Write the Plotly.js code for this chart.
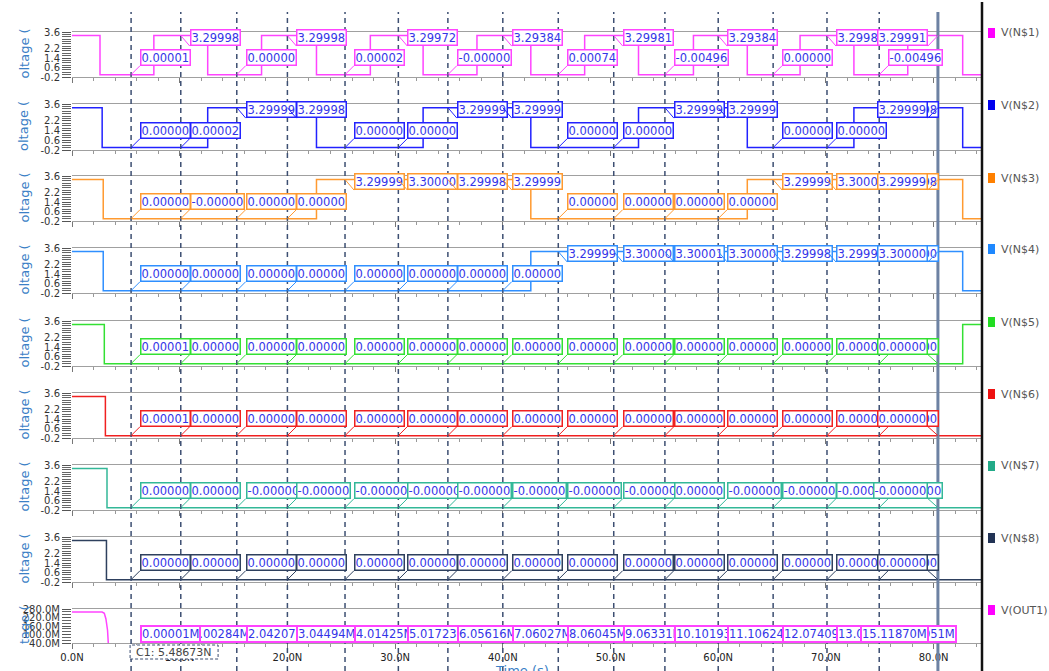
<!DOCTYPE html>
<html><head><meta charset="utf-8">
<script src="https://cdn.plot.ly/plotly-3.0.1.min.js"></script>
<style>html,body{margin:0;padding:0;background:#fff}#chart{width:1049px;height:671px}</style>
</head><body><div id="chart"></div><script>
// ---------------- data ----------------
const signalNames = ["V(N$1)","V(N$2)","V(N$3)","V(N$4)","V(N$5)","V(N$6)","V(N$7)","V(N$8)","V(OUT1)"];

const n1Time = [0, 2.6, 7.6, 12.6, 17.6, 22.7, 27.7, 32.6, 37.6, 42.6, 47.6, 52.6, 57.7, 62.7, 67.6, 72.6, 77.6, 82.7, 84.4];
const n1Volt = [3.3, 0, 3.3, 0, 3.3, 0, 3.3, 0, 3.3, 0, 3.3, 0, 3.3, 0, 3.3, 0, 3.3, 0, 0];
const n2Time = [0, 2.8, 12.6, 22.7, 32.6, 42.6, 52.6, 62.7, 72.6, 82.7, 84.4];
const n2Volt = [3.3, 0, 3.3, 0, 3.3, 0, 3.3, 0, 3.3, 0, 0];
const n3Time = [0, 2.9, 22.7, 42.6, 62.7, 82.7, 84.4];
const n3Volt = [3.3, 0, 3.3, 0, 3.3, 0, 0];
const n4Time = [0, 2.9, 42.6, 82.7, 84.4];
const n4Volt = [3.3, 0, 3.3, 0, 0];
const n5Time = [0, 3.0, 82.7, 84.4];
const n5Volt = [3.3, 0, 3.3, 3.3];
const n6Time = [0, 3.1, 84.4];
const n6Volt = [3.3, 0, 0];
const n7Time = [0, 3.25, 84.4];
const n7Volt = [3.3, 0, 0];
const n8Time = [0, 3.2, 84.4];
const n8Volt = [3.3, 0, 0];
const out1Time = [0, 2.8, 3.0, 3.15, 3.3, 3.35, 3.4, 84.4];
const out1Volt = [259e6, 259e6, 250e6, 210e6, 130e6, 40e6, 0, 0];

// marker positions (C1 cursor first, right cursor last)
const markerTimes = [5.48673, 10.1, 15.3, 20.0, 25.35, 30.3, 34.9, 40.0, 45.15, 50.3, 55.05, 60.0, 65.1, 70.1, 74.95, 80.4];
const c1Label = "C1: 5.48673N";

const n1Marks = ["0.00001","3.29998","0.00000","3.29998","0.00002","3.29972","-0.00000","3.29384","0.00074","3.29981","-0.00496","3.29384","0.00000","3.29985","-0.00496","3.29991"];
const n2Marks = ["0.00000","0.00002","3.29999","3.29998","0.00000","0.00000","3.29999","3.29999","0.00000","0.00000","3.29999","3.29999","0.00000","0.00000","3.29998","3.29999"];
const n3Marks = ["0.00000","-0.00000","0.00000","0.00000","3.29999","3.30000","3.29998","3.29999","0.00000","0.00000","0.00000","0.00000","3.29999","3.30000","3.29998","3.29999"];
const n4Marks = ["0.00000","0.00000","0.00000","0.00000","0.00000","0.00000","0.00000","0.00000","3.29999","3.30000","3.30001","3.30000","3.29998","3.29990","3.30000","3.30000"];
const n5Marks = ["0.00001","0.00000","0.00000","0.00000","0.00000","0.00000","0.00000","0.00000","0.00000","0.00000","0.00000","0.00000","0.00000","0.00000","0.00000","0.00000"];
const n6Marks = ["0.00001","0.00000","0.00000","0.00000","0.00000","0.00000","0.00000","0.00000","0.00000","0.00000","0.00000","0.00000","0.00000","0.00000","0.00000","0.00000"];
const n7Marks = ["0.00000","0.00000","-0.00000","-0.00000","-0.00000","-0.00000","-0.00000","-0.00000","-0.00000","-0.00000","0.00000","-0.00000","-0.00000","-0.00000","-0.00000","-0.00000"];
const n8Marks = ["0.00000","0.00000","0.00000","0.00000","0.00000","0.00000","0.00000","0.00000","0.00000","0.00000","0.00000","0.00000","0.00000","0.00000","0.00000","0.00000"];
const out1Marks = ["0.00001M","1.00284M","2.04207M","3.04494M","4.01425M","5.01723M","6.05616M","7.06027M","8.06045M","9.06331M","10.10193M","11.10624M","12.07409M","13.09012M","14.10051M","15.11870M"];

const voltTickVals = [-0.2, 0.6, 1.4, 2.2, 3.6];
const voltTickText = ["-0.2", "0.6", "1.4", "2.2", "3.6"];
const out1TickVals = [40e6, 100e6, 160e6, 220e6, 280e6];
const out1TickText = ["40.0M", "100.0M", "160.0M", "220.0M", "280.0M"];

// ---------------- styling / layout ----------------
const times = [n1Time,n2Time,n3Time,n4Time,n5Time,n6Time,n7Time,n8Time,out1Time];
const volts = [n1Volt,n2Volt,n3Volt,n4Volt,n5Volt,n6Volt,n7Volt,n8Volt,out1Volt];
const marks = [n1Marks,n2Marks,n3Marks,n4Marks,n5Marks,n6Marks,n7Marks,n8Marks,out1Marks];
const lineColors = ['#ff44ff','#2222ff','#ff9a30','#2f8fff','#33e033','#f02020','#33b898','#2e405e','#ff44ff'];
const legendColors = ['#ff00ff','#0000ee','#ff8000','#1e88ff','#22dd22','#ee1111','#22aa88','#223355','#ff00ff'];

const W = 1049, H = 671, ML = 72, MR = 68, MT = 0, MB = 28;
const PW = W - ML - MR, PH = H - MT - MB;
const px2x = px => (px - ML) / PW;
const py2y = py => (H - MB - py) / PH;

const panelTop = [32, 104, 176, 248, 321, 393, 465, 537, 609];
const panelBot = [77, 150, 221, 293, 366, 438, 510, 582, 643];
const legendY = [33, 105, 178, 249, 322, 394, 466, 538, 610];
const xRange = [0, 84.4];

const traces = [];
const layout = {
  width: W, height: H,
  margin: {l: ML, r: MR, t: MT, b: MB},
  paper_bgcolor: '#ffffff', plot_bgcolor: 'rgba(0,0,0,0)',
  showlegend: false,
  font: {family: 'DejaVu Sans', size: 10, color: '#333'},
  shapes: [], annotations: []
};

for (let i = 0; i < 9; i++) {
  const n = i + 1;
  const xk = 'xaxis' + (n > 1 ? n : '');
  const yk = 'yaxis' + (n > 1 ? n : '');
  const xr = 'x' + (n > 1 ? n : '');
  const yr = 'y' + (n > 1 ? n : '');
  traces.push({
    x: times[i], y: volts[i], xaxis: xr, yaxis: yr,
    type: 'scatter', mode: 'lines',
    line: {shape: i === 8 ? 'linear' : 'hv', color: lineColors[i], width: 1.5},
    hoverinfo: 'skip'
  });
  layout[xk] = {
    anchor: yr, domain: [0, 1], range: xRange,
    showline: true, linecolor: '#a0a0a0', linewidth: 1, mirror: true,
    ticks: 'outside', ticklen: 5, tickcolor: '#777', tickmode: 'linear', tick0: 0, dtick: 10,
    minor: {dtick: 2, ticklen: 3, tickcolor: '#999', showgrid: false},
    showgrid: false, zeroline: false,
    showticklabels: i === 8, tickformat: '.1f', ticksuffix: 'N',
    tickfont: {family: 'DejaVu Sans', size: 10, color: '#222'}
  };
  if (n > 1) layout[xk].matches = 'x';
  const isOut = i === 8;
  layout[yk] = {
    anchor: xr,
    domain: [py2y(panelBot[i]), py2y(panelTop[i])],
    range: isOut ? [40e6, 280e6] : [-0.2, 3.6],
    tickmode: 'array',
    tickvals: isOut ? out1TickVals : voltTickVals,
    ticktext: isOut ? out1TickText : voltTickText,
    ticks: 'outside', ticklen: 9, tickcolor: '#555',
    minor: isOut ? {tick0: 40e6, dtick: 20e6, ticklen: 9, tickcolor: '#666'} : {tick0: -0.2, dtick: 0.2, ticklen: 9, tickcolor: '#666'},
    showgrid: false, zeroline: false, showline: false,
    tickfont: {family: 'DejaVu Sans', size: 10, color: '#333'}
  };

  // y axis title (clipped look)
  layout.annotations.push({
    xref: 'paper', yref: 'paper', x: px2x(24), y: py2y((panelTop[i] + panelBot[i]) / 2 - 1),
    text: isOut ? 'tage (' : 'oltage (', showarrow: false, textangle: -90,
    xanchor: 'center', yanchor: 'middle',
    font: {family: 'DejaVu Sans', size: 13, color: '#3b80c6'}
  });

  // legend entry
  layout.shapes.push({
    type: 'rect', xref: 'paper', yref: 'paper',
    x0: px2x(988), x1: px2x(995), y0: py2y(legendY[i] + 5), y1: py2y(legendY[i] - 5),
    fillcolor: legendColors[i], line: {width: 0}
  });
  layout.annotations.push({
    xref: 'paper', yref: 'paper', x: px2x(999), y: py2y(legendY[i]),
    text: signalNames[i], showarrow: false, xanchor: 'left', yanchor: 'middle',
    font: {family: 'DejaVu Sans', size: 11, color: '#555'}
  });

  // marker value boxes: regular markers, then C1, then right cursor on top
  const order = [];
  for (let k = 1; k < markerTimes.length - 1; k++) order.push(k);
  order.push(0); order.push(markerTimes.length - 1);
  order.forEach(k => {
    const isCursor = k === markerTimes.length - 1;
    const label = marks[i][k];
    if (isOut) {
      layout.annotations.push({
        xref: xr, yref: yr + ' domain', x: markerTimes[k], y: 0,
        text: label, showarrow: false,
        xanchor: isCursor ? 'right' : 'left', yanchor: 'bottom',
        xshift: isCursor ? -9 : 9, yshift: 0,
        bgcolor: '#ffffff', bordercolor: lineColors[i], borderwidth: 2, borderpad: 0,
        font: {family: 'DejaVu Sans', size: 11.5, color: '#3434e8'}
      });
    } else {
      const v = parseFloat(label);
      const high = v > 1.65;
      layout.annotations.push({
        xref: xr, yref: yr, x: markerTimes[k], y: v,
        text: label, showarrow: true, arrowhead: 0, arrowwidth: 1, arrowcolor: lineColors[i],
        standoff: 0, startstandoff: 0,
        ax: isCursor ? -10 : 9, ay: high ? 10.5 : -9,
        xanchor: isCursor ? 'right' : 'left', yanchor: 'bottom',
        bgcolor: '#ffffff', bordercolor: lineColors[i], borderwidth: 1.5, borderpad: 0,
        font: {family: 'DejaVu Sans', size: 11.5, color: '#3434e8'}
      });
    }
  });
}

// vertical marker lines
markerTimes.forEach((t, k) => {
  const isCursor = k === markerTimes.length - 1;
  layout.shapes.push({
    type: 'line', xref: 'x', yref: 'paper', x0: t, x1: t,
    y0: py2y(H), y1: py2y(12), layer: 'above',
    line: isCursor ? {color: '#6d82a3', width: 3} : {color: '#3d4f72', width: 1.5, dash: '5px,4px'}
  });
});

// right border line
layout.shapes.push({
  type: 'line', xref: 'paper', yref: 'paper', x0: px2x(982), x1: px2x(982),
  y0: py2y(H), y1: py2y(2), line: {color: '#111', width: 2.5}
});

// C1 cursor label
layout.shapes.push({
  type: 'rect', xref: 'x', xsizemode: 'pixel', xanchor: markerTimes[0], x0: -1, x1: 87,
  yref: 'paper', y0: py2y(659), y1: py2y(645), layer: 'above',
  fillcolor: '#ffffff', line: {color: '#3d4f72', width: 1, dash: '3px,2px'}
});
layout.annotations.push({
  xref: 'x', yref: 'paper', x: markerTimes[0], xshift: 3, y: py2y(652),
  text: c1Label, showarrow: false, xanchor: 'left', yanchor: 'middle',
  font: {family: 'DejaVu Sans', size: 11, color: '#444'}
});

// x axis title (cut at bottom edge)
layout.annotations.push({
  xref: 'paper', yref: 'paper', x: px2x(522), y: py2y(661),
  text: 'Time (s)', showarrow: false, xanchor: 'center', yanchor: 'top',
  font: {family: 'DejaVu Sans', size: 13, color: '#3b80c6'}
});

Plotly.newPlot('chart', traces, layout, {displayModeBar: false, staticPlot: true});
</script></body></html>
